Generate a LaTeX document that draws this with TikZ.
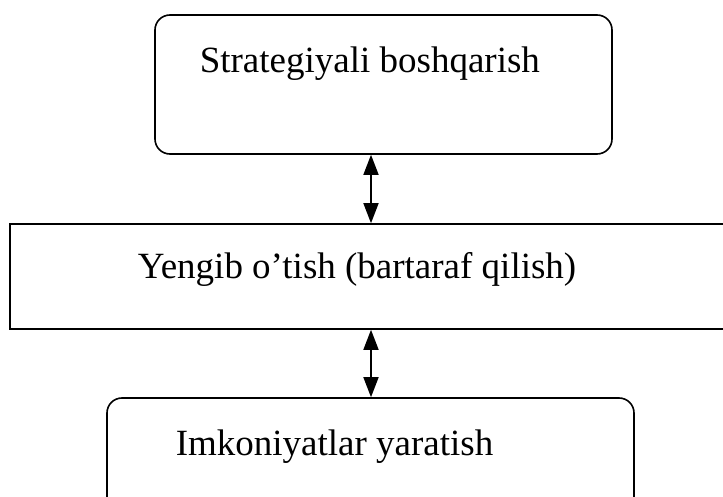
\documentclass[tikz,border=0pt]{standalone}
\usepackage{fontspec}
\setmainfont{Liberation Serif}
\usetikzlibrary{arrows.meta, positioning, calc}

\begin{document}
\begin{tikzpicture}[x=1pt,y=-1pt,>={Triangle[length=20pt,width=15pt]},line width=1.6pt,
			round box/.style={draw,rounded corners=15pt,inner sep=0pt},
			plain box/.style={draw,inner sep=0pt},
			caption/.style={anchor=base west,inner sep=0pt,font=\fontsize{37}{44}\selectfont}]
			
			\clip (0,0) rectangle (723,497);
			
			% boxes
			\node[round box,minimum width=457pt,minimum height=139pt] (strat) at (383.5,84.5) {};
			\node[plain box,minimum width=730pt,minimum height=105pt] (yengib) at (375,276.5) {};
			\node[round box,minimum width=527pt,minimum height=122pt] (imkon) at (370.5,459) {};
			
			% texts
			\node[caption] (strattext) at (199,73) {Strategiyali boshqarish};
			\node[caption] (yengibtext) at (137,279) {Yengib o’tish (bartaraf qilish)};
			\node[caption] (imkontext) at (175,455) {Imkoniyatlar yaratish};
			
			% arrows
			\coordinate (axis) at (371,0);
			\draw[<->] (strat.south -| axis) -- (yengib.north -| axis);
			\draw[<->] (yengib.south -| axis) -- (imkon.north -| axis);
		
		\end{tikzpicture}
\end{document}
